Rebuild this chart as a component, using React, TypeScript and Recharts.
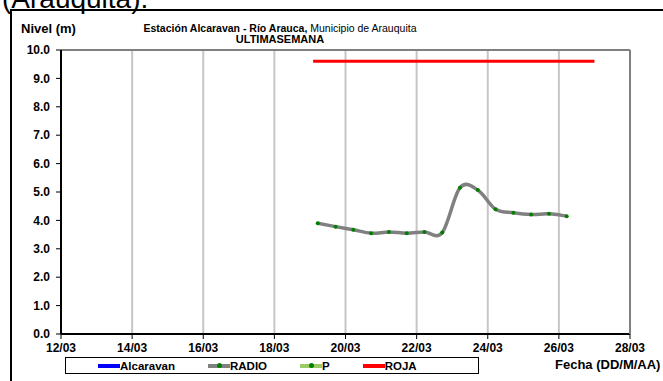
import React from 'react';
import { LineChart, Line, XAxis, YAxis, CartesianGrid, ReferenceLine } from 'recharts';

// ---- data ----
const xTicks = [12, 14, 16, 18, 20, 22, 24, 26, 28];
const levelTicks = [0, 1, 2, 3, 4, 5, 6, 7, 8, 9, 10];
const rainTicks = [0, 20, 40, 60, 80, 100, 120, 140, 160, 180, 200];

// day-of-month (decimal) and level (m) for RADIO
const radioDays = [19.22, 19.72, 20.22, 20.72, 21.22, 21.72, 22.22, 22.72, 23.22, 23.72, 24.22, 24.72, 25.22, 25.72, 26.22];
const radioLevels = [3.9, 3.78, 3.67, 3.55, 3.59, 3.55, 3.59, 3.57, 5.15, 5.07, 4.39, 4.27, 4.21, 4.23, 4.15];

const alcaravanDays: number[] = [];
const alcaravanLevels: number[] = [];
const pDays: number[] = [];
const pValues: number[] = [];

const rojaDays = [19.09, 27.0];
const rojaLevels = [9.6, 9.6];

const legendNames = ['Alcaravan', 'RADIO', 'P', 'ROJA'];
const legendColors = ['#0000ff', '#808080', '#99cc66', '#ff0000'];
const legendDots = [false, true, true, false];

const zip = (xs: number[], ys: number[], key: string) => xs.map((x, i) => ({ day: x, [key]: ys[i] }));
const radioData = zip(radioDays, radioLevels, 'v');
const alcaravanData = zip(alcaravanDays, alcaravanLevels, 'v');
const pData = zip(pDays, pValues, 'v');
const rojaData = zip(rojaDays, rojaLevels, 'v');

// Catmull-Rom smoothing (like Excel's smoothed line)
const catmull: any = (context: any) => {
  let pts: number[][] = [];
  return {
    areaStart() {},
    areaEnd() {},
    lineStart() { pts = []; },
    point(x: number, y: number) { pts.push([+x, +y]); },
    lineEnd() {
      const n = pts.length;
      if (!n) return;
      context.moveTo(pts[0][0], pts[0][1]);
      if (n === 1) return;
      for (let i = 0; i < n - 1; i++) {
        const p0 = pts[Math.max(i - 1, 0)];
        const p1 = pts[i];
        const p2 = pts[i + 1];
        const p3 = pts[Math.min(i + 2, n - 1)];
        context.bezierCurveTo(
          p1[0] + (p2[0] - p0[0]) / 6, p1[1] + (p2[1] - p0[1]) / 6,
          p2[0] - (p3[0] - p1[0]) / 6, p2[1] - (p3[1] - p1[1]) / 6,
          p2[0], p2[1]
        );
      }
    },
  };
};

const FONT = '"Liberation Sans", Arial, sans-serif';
const tickStyle = { fontFamily: FONT, fontSize: 12, fontWeight: 700, fill: '#000' };

const fmtDay = (d: number) => `${String(d).padStart(2, '0')}/03`;

export default function App() {
  return (
    <div style={{ position: 'absolute', left: 0, top: 0, width: 663, height: 381, overflow: 'hidden', background: '#fff', fontFamily: FONT }}>
      <div style={{ position: 'absolute', left: 2, top: -15, fontSize: 28, lineHeight: '28px', whiteSpace: 'nowrap', color: '#000' }}>(Arauquita).</div>
      <div style={{ position: 'absolute', left: 10, top: 9, width: 700, height: 400, border: '2px solid #000' }} />
      <div style={{ position: 'absolute', left: 0, top: 0 }}>
        <LineChart width={663} height={381} margin={{ top: 50, right: 0, bottom: 27, left: 11 }}>
          <CartesianGrid stroke="#c6c6c6" strokeWidth={2} />
          <XAxis dataKey="day" type="number" domain={[12, 28]} ticks={xTicks} tickFormatter={fmtDay}
            allowDuplicatedCategory={false} height={20} tick={tickStyle}
            axisLine={{ stroke: '#000', strokeWidth: 2 }} tickLine={{ stroke: '#000' }} tickSize={5} tickMargin={4} interval={0} />
          <YAxis yAxisId="lvl" domain={[0, 10]} ticks={levelTicks} tickFormatter={(v: number) => v.toFixed(1)}
            width={50} tick={tickStyle} axisLine={{ stroke: '#000', strokeWidth: 2 }} tickLine={{ stroke: '#000' }}
            tickSize={5} tickMargin={6} interval={0} />
          <YAxis yAxisId="p" orientation="right" reversed domain={[0, 200]} ticks={rainTicks} width={33}
            tick={tickStyle} axisLine={{ stroke: '#808080', strokeWidth: 2 }} tickLine={{ stroke: '#808080' }}
            tickSize={6} tickMargin={7} interval={0} />
          <ReferenceLine yAxisId="lvl" y={10} stroke="#808080" strokeWidth={2} />
          <Line yAxisId="lvl" data={alcaravanData} dataKey="v" stroke="#0000ff" strokeWidth={3} dot={false} isAnimationActive={false} />
          <Line yAxisId="lvl" data={radioData} dataKey="v" type={catmull} stroke="#808080" strokeWidth={3.5}
            dot={{ r: 2, fill: '#008000', stroke: 'none' }} isAnimationActive={false} />
          <Line yAxisId="p" data={pData} dataKey="v" stroke="#99cc66" strokeWidth={3} dot={{ r: 2, fill: '#008000', stroke: 'none' }} isAnimationActive={false} />
          <Line yAxisId="lvl" data={rojaData} dataKey="v" stroke="#ff0000" strokeWidth={3} dot={false} isAnimationActive={false} />
        </LineChart>
      </div>
      <div style={{ position: 'absolute', left: 0, width: 560, top: 22, textAlign: 'center', fontSize: 10.5, lineHeight: '12px', whiteSpace: 'nowrap' }}>
        <b>Estación Alcaravan - Río Arauca,</b> Municipio de Arauquita
      </div>
      <div style={{ position: 'absolute', left: 0, width: 560, top: 33, textAlign: 'center', fontSize: 11, lineHeight: '12px', fontWeight: 700, whiteSpace: 'nowrap' }}>
        ULTIMASEMANA
      </div>
      <div style={{ position: 'absolute', left: 21, top: 21, fontSize: 13, lineHeight: '16px', fontWeight: 700, whiteSpace: 'nowrap' }}>Nivel (m)</div>
      <div style={{ position: 'absolute', left: 555, top: 357, fontSize: 13, lineHeight: '16px', fontWeight: 700, whiteSpace: 'nowrap' }}>Fecha (DD/M/AA)</div>
      <div style={{ position: 'absolute', left: 65, top: 357, width: 380, height: 15, border: '1.5px solid #000', display: 'flex', alignItems: 'center', paddingLeft: 32, boxSizing: 'content-box', gap: 33 }}>
        {legendNames.map((name, i) => (
          <div key={name} style={{ display: 'flex', alignItems: 'center' }}>
            <div style={{ position: 'relative', width: 22, height: 4, background: legendColors[i] }}>
              {legendDots[i] && (
                <div style={{ position: 'absolute', left: 9, top: -0.5, width: 5, height: 5, borderRadius: 3, background: '#008000' }} />
              )}
            </div>
            <span style={{ fontSize: 11.5, fontWeight: 700, lineHeight: '14px' }}>{name}</span>
          </div>
        ))}
      </div>
    </div>
  );
}
